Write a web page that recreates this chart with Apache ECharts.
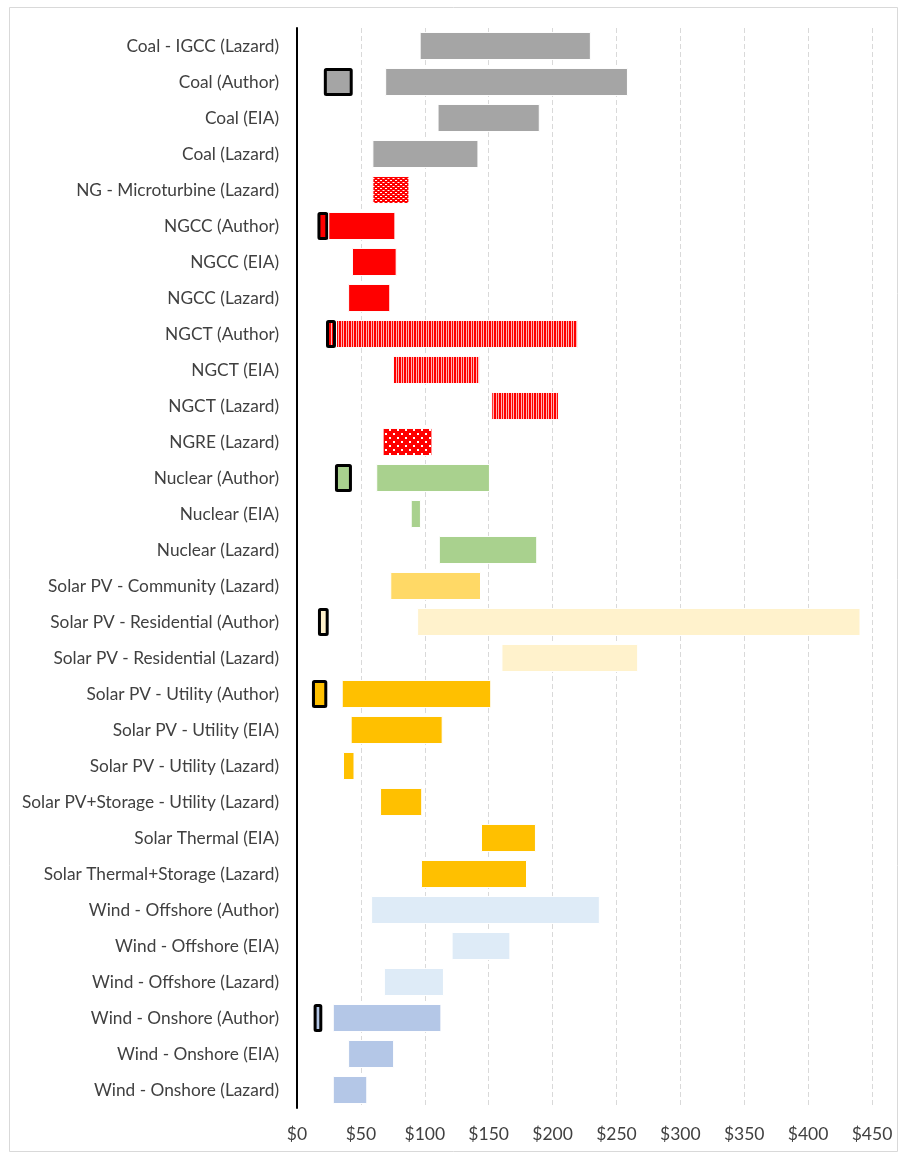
<!DOCTYPE html>
<html>
<head>
<meta charset="utf-8">
<script src="https://cdn.jsdelivr.net/npm/echarts@6/dist/echarts.min.js"></script>
<style>
  html, body { margin: 0; padding: 0; background: #fff; }
  #chart { width: 901px; height: 1153px; }
</style>
</head>
<body>
<div id="chart"></div>
<script>
// cost ranges in $/MWh
const categories = [
  'Coal - IGCC (Lazard)', 'Coal (Author)', 'Coal (EIA)', 'Coal (Lazard)',
  'NG - Microturbine (Lazard)', 'NGCC (Author)', 'NGCC (EIA)', 'NGCC (Lazard)',
  'NGCT (Author)', 'NGCT (EIA)', 'NGCT (Lazard)', 'NGRE (Lazard)',
  'Nuclear (Author)', 'Nuclear (EIA)', 'Nuclear (Lazard)',
  'Solar PV - Community (Lazard)', 'Solar PV - Residential (Author)', 'Solar PV - Residential (Lazard)',
  'Solar PV - Utility (Author)', 'Solar PV - Utility (EIA)', 'Solar PV - Utility (Lazard)',
  'Solar PV+Storage - Utility (Lazard)', 'Solar Thermal (EIA)', 'Solar Thermal+Storage (Lazard)',
  'Wind - Offshore (Author)', 'Wind - Offshore (EIA)', 'Wind - Offshore (Lazard)',
  'Wind - Onshore (Author)', 'Wind - Onshore (EIA)', 'Wind - Onshore (Lazard)'
]
const rangeLow = [96, 69, 110, 59, 59, 24.5, 43, 40, 30.5, 75, 152, 67, 62, 89, 111, 73, 94, 160, 35, 42, 36, 65, 144, 97, 58, 121, 68, 28, 40, 28]
const rangeHigh = [230, 259, 190, 142, 88, 77, 78, 73, 220, 143, 205, 106, 151, 97, 188, 144, 441, 267, 152, 114, 45, 98, 187, 180, 237, 167, 115, 113, 76, 55]
// outlined "Author" boxes (null where there is none)
const boxLow = [null, 21, null, null, null, 16, null, null, 22.7, null, null, null, 29.7, null, null, null, 16.4, null, 11.7, null, null, null, null, null, null, null, null, 13, null, null]
const boxHigh = [null, 43.6, null, null, null, 24.5, null, null, 30.5, null, null, null, 43, null, null, null, 24.8, null, 23.7, null, null, null, null, null, null, null, null, 19.8, null, null]
const xTicks = [0, 50, 100, 150, 200, 250, 300, 350, 400, 450]

const GRAY = '#A5A5A5', RED = '#FF0000', GREEN = '#A9D18E', GOLD_L = '#FFD966',
  PALE = '#FFF2CC', GOLD = '#FFC000', SKY = '#DEEBF7', BLUE = '#B4C7E7'

function makePattern(w, h, draw) {
  const c = document.createElement('canvas')
  c.width = w; c.height = h
  const ctx = c.getContext('2d')
  ctx.fillStyle = RED
  ctx.fillRect(0, 0, w, h)
  ctx.fillStyle = '#fff'
  draw(ctx)
  return { image: c, repeat: 'repeat' }
}
const checker = makePattern(5, 4, ctx => { ctx.fillRect(0, 0, 2, 1); ctx.fillRect(2.5, 2, 2, 1) })
const stripes = makePattern(5, 4, ctx => { ctx.fillStyle = '#ffb3b3'; ctx.fillRect(1, 0, 1, 4); ctx.fillRect(3, 0, 1, 4) })
const dots = makePattern(8, 8, ctx => { ctx.fillRect(1, 1, 2, 2); ctx.fillRect(5, 5, 2, 2) })

const rowColors = [GRAY, GRAY, GRAY, GRAY, checker, RED, RED, RED, stripes, stripes, stripes, dots,
  GREEN, GREEN, GREEN, GOLD_L, PALE, PALE, GOLD, GOLD, GOLD, GOLD, GOLD, GOLD, SKY, SKY, SKY, BLUE, BLUE, BLUE]

const base = categories.map((_, i) => boxLow[i] != null ? boxLow[i] : rangeLow[i])
const boxLen = categories.map((_, i) => boxLow[i] != null ? {
  value: boxHigh[i] - boxLow[i],
  itemStyle: { color: rowColors[i] }
} : '-')
const gapLen = categories.map((_, i) => boxLow[i] != null ? rangeLow[i] - boxHigh[i] : '-')
const rangeLen = categories.map((_, i) => ({
  value: rangeHigh[i] - rangeLow[i],
  itemStyle: { color: rowColors[i] }
}))

const FONT = 'Lato'
const chart = echarts.init(document.getElementById('chart'))
chart.setOption({
  animation: false,
  backgroundColor: '#fff',
  graphic: [{
    type: 'rect', left: 7, top: 5,
    shape: { width: 888, height: 1144 },
    style: { fill: 'none', stroke: '#d9d9d9', lineWidth: 1 }
  }],
  grid: { left: 297, right: 29, top: 28, bottom: 45 },
  xAxis: {
    type: 'value', min: 0, max: 450, interval: 50,
    axisLine: { show: false },
    axisTick: { show: false },
    splitLine: { lineStyle: { color: '#d9d9d9', type: [5, 3], width: 1 } },
    axisLabel: {
      margin: 17, color: '#404040', fontFamily: FONT, fontSize: 17.5,
      formatter: v => xTicks.includes(v) ? '$' + v : ''
    }
  },
  yAxis: {
    type: 'category', data: categories, inverse: true,
    axisLine: { lineStyle: { color: '#000', width: 2 } },
    axisTick: { show: false },
    axisLabel: { margin: 18, color: '#404040', fontFamily: FONT, fontSize: 17.3 }
  },
  series: [
    {
      type: 'bar', stack: 'c', data: base, barCategoryGap: '22%',
      itemStyle: { color: 'transparent' }, silent: true
    },
    {
      type: 'bar', stack: 'c', data: boxLen,
      itemStyle: { borderColor: '#000', borderWidth: 3, borderRadius: 1 }
    },
    {
      type: 'bar', stack: 'c', data: gapLen,
      itemStyle: { color: 'transparent' }, silent: true
    },
    {
      type: 'bar', stack: 'c', data: rangeLen,
      itemStyle: { borderColor: '#fff', borderWidth: 1 }
    }
  ]
})
</script>
</body>
</html>
